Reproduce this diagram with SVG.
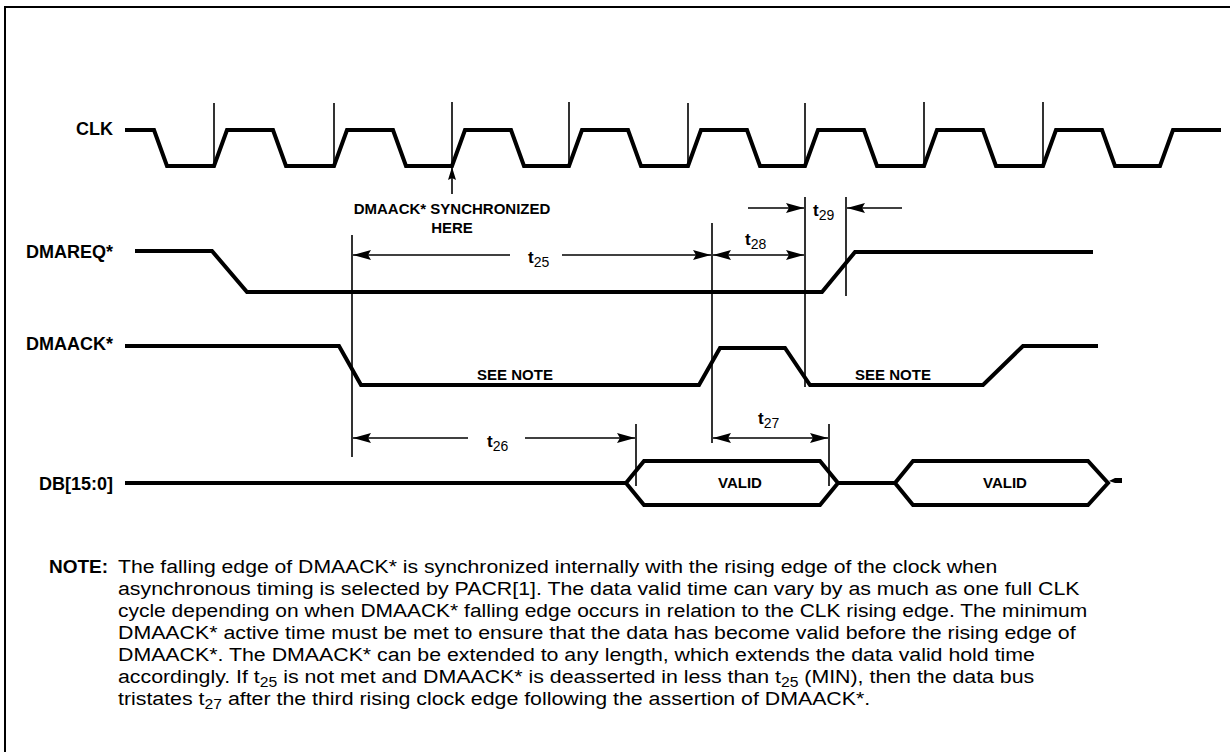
<svg xmlns="http://www.w3.org/2000/svg" width="1230" height="752" viewBox="0 0 1230 752">
<style>
.sig{fill:none;stroke:#000;stroke-width:4;stroke-linejoin:miter}
.mk{fill:none;stroke:#000;stroke-width:1.6}
.ar{fill:none;stroke:#000;stroke-width:1.6;marker-end:url(#ah)}
.ar2{fill:none;stroke:#000;stroke-width:1.6;marker-start:url(#ah);marker-end:url(#ah)}
.ars{fill:none;stroke:#000;stroke-width:1.6;marker-start:url(#ah)}
.lbl{font-family:"Liberation Sans",Arial,sans-serif;font-weight:bold;font-size:18px;fill:#000}
.sm{font-family:"Liberation Sans",Arial,sans-serif;font-weight:bold;font-size:15px;fill:#000}
.tt{font-family:"Liberation Sans",Arial,sans-serif;font-size:17px;fill:#000}
.tb{font-weight:bold}
.sub{font-size:14px;font-weight:normal}
.note{font-family:"Liberation Sans",Arial,sans-serif;font-size:19px;fill:#000}
.ns{font-size:14px}
</style>
<defs>
<marker id="ah" markerUnits="userSpaceOnUse" markerWidth="20" markerHeight="12" refX="18" refY="5" orient="auto-start-reverse">
<path d="M0,0 L18,5 L0,10 L3,5 Z" fill="#000"/>
</marker>
<marker id="ahu" markerUnits="userSpaceOnUse" markerWidth="16" markerHeight="10" refX="13" refY="4" orient="auto">
<path d="M0,0 L13,4 L0,8 L2,4 Z" fill="#000"/>
</marker>
</defs>
<rect x="5" y="7" width="1300" height="800" fill="none" stroke="#000" stroke-width="2"/>

<g id="clk">
<text class="lbl" x="113" y="135" text-anchor="end">CLK</text>
<path class="sig" d="M125,130 H154 L167,166 H214 L227,130 H273 L286,166 H334 L347,130 H393 L406,166 H452 L465,130 H511 L524,166 H569 L582,130 H628 L641,166 H688 L701,130 H747 L760,166 H805 L818,130 H864 L877,166 H924 L937,130 H983 L996,166 H1043 L1056,130 H1102 L1115,166 H1160 L1173,130 H1221"/>
</g>

<g id="dmareq">
<text class="lbl" x="113" y="258" text-anchor="end">DMAREQ*</text>
<path class="sig" d="M135,251 H212 L247,292 H822 L855,252 H1093"/>
</g>

<g id="dmaack">
<text class="lbl" x="113" y="350" text-anchor="end">DMAACK*</text>
<path class="sig" d="M125,346 H339 L361,385 H699 L720,348 H785 L810,385 H983 L1023,346 H1098"/>
<text class="sm" x="515" y="380" text-anchor="middle">SEE NOTE</text>
<text class="sm" x="893" y="380" text-anchor="middle">SEE NOTE</text>
</g>

<g id="db">
<text class="lbl" x="113" y="490" text-anchor="end">DB[15:0]</text>
<path class="sig" d="M125,483 H626 M838,483 H895"/>
<path class="sig" d="M626,483 L644,461 H820 L838,483 L820,505 H644 Z"/>
<path class="sig" d="M895,483 L913,461 H1088 L1108,483 L1088,505 H913 Z"/>
<polygon points="1109,481 1115,478 1122,478 1122,483 1115,483" fill="#000"/>
<text class="sm" x="740" y="488" text-anchor="middle">VALID</text>
<text class="sm" x="1005" y="488" text-anchor="middle">VALID</text>
</g>

<g id="connectors">
<path class="mk" d="M214,103 V166 M334,103 V166 M452,102 V166 M569,102 V166 M688,103 V166 M805,103 V166 M924,102 V166 M1043,102 V166"/>
<path class="mk" d="M352,235 V457 M712,223 V443 M805,197 V387 M846,197 V296 M636,424 V486 M829,424 V486"/>
<line x1="452" y1="194" x2="452" y2="167" stroke="#000" stroke-width="1.6" marker-end="url(#ahu)"/>
<line class="ars" x1="353" y1="255" x2="510" y2="255"/>
<line class="ar" x1="562" y1="255" x2="711" y2="255"/>
<line class="ar2" x1="713" y1="255" x2="804" y2="255"/>
<line class="ar" x1="748" y1="208" x2="804" y2="208"/>
<line class="ar" x1="902" y1="208" x2="847" y2="208"/>
<line class="ars" x1="353" y1="438" x2="468" y2="438"/>
<line class="ar" x1="525" y1="438" x2="635" y2="438"/>
<line class="ar2" x1="713" y1="438" x2="828" y2="438"/>
</g>

<g id="labels">
<text class="sm" x="452" y="214" text-anchor="middle">DMAACK* SYNCHRONIZED</text>
<text class="sm" x="452" y="233" text-anchor="middle">HERE</text>
<text class="tt" x="528" y="263"><tspan class="tb">t</tspan><tspan class="sub" dy="4">25</tspan></text>
<text class="tt" x="745" y="245"><tspan class="tb">t</tspan><tspan class="sub" dy="4">28</tspan></text>
<text class="tt" x="813" y="216"><tspan class="tb">t</tspan><tspan class="sub" dy="4">29</tspan></text>
<text class="tt" x="487" y="447"><tspan class="tb">t</tspan><tspan class="sub" dy="4">26</tspan></text>
<text class="tt" x="758" y="424"><tspan class="tb">t</tspan><tspan class="sub" dy="4">27</tspan></text>
</g>

<g id="note">
<text class="note" x="49" y="573" font-weight="bold">NOTE:</text>
<g transform="translate(118,0) scale(1.123,1) translate(-118,0)">
<text class="note" x="118" y="573" textLength="783" lengthAdjust="spacingAndGlyphs">The falling edge of DMAACK* is synchronized internally with the rising edge of the clock when</text>
<text class="note" x="118" y="595">asynchronous timing is selected by PACR[1]. The data valid time can vary by as much as one full CLK</text>
<text class="note" x="118" y="617" textLength="863" lengthAdjust="spacingAndGlyphs">cycle depending on when DMAACK* falling edge occurs in relation to the CLK rising edge. The minimum</text>
<text class="note" x="118" y="639">DMAACK* active time must be met to ensure that the data has become valid before the rising edge of</text>
<text class="note" x="118" y="661">DMAACK*. The DMAACK* can be extended to any length, which extends the data valid hold time</text>
<text class="note" x="118" y="683">accordingly. If t<tspan class="ns" dy="4">25</tspan><tspan dy="-4"> is not met and DMAACK* is deasserted in less than t</tspan><tspan class="ns" dy="4">25</tspan><tspan dy="-4"> (MIN), then the data bus</tspan></text>
<text class="note" x="118" y="705">tristates t<tspan class="ns" dy="4">27</tspan><tspan dy="-4"> after the third rising clock edge following the assertion of DMAACK*.</tspan></text>
</g>
</g>
</svg>
